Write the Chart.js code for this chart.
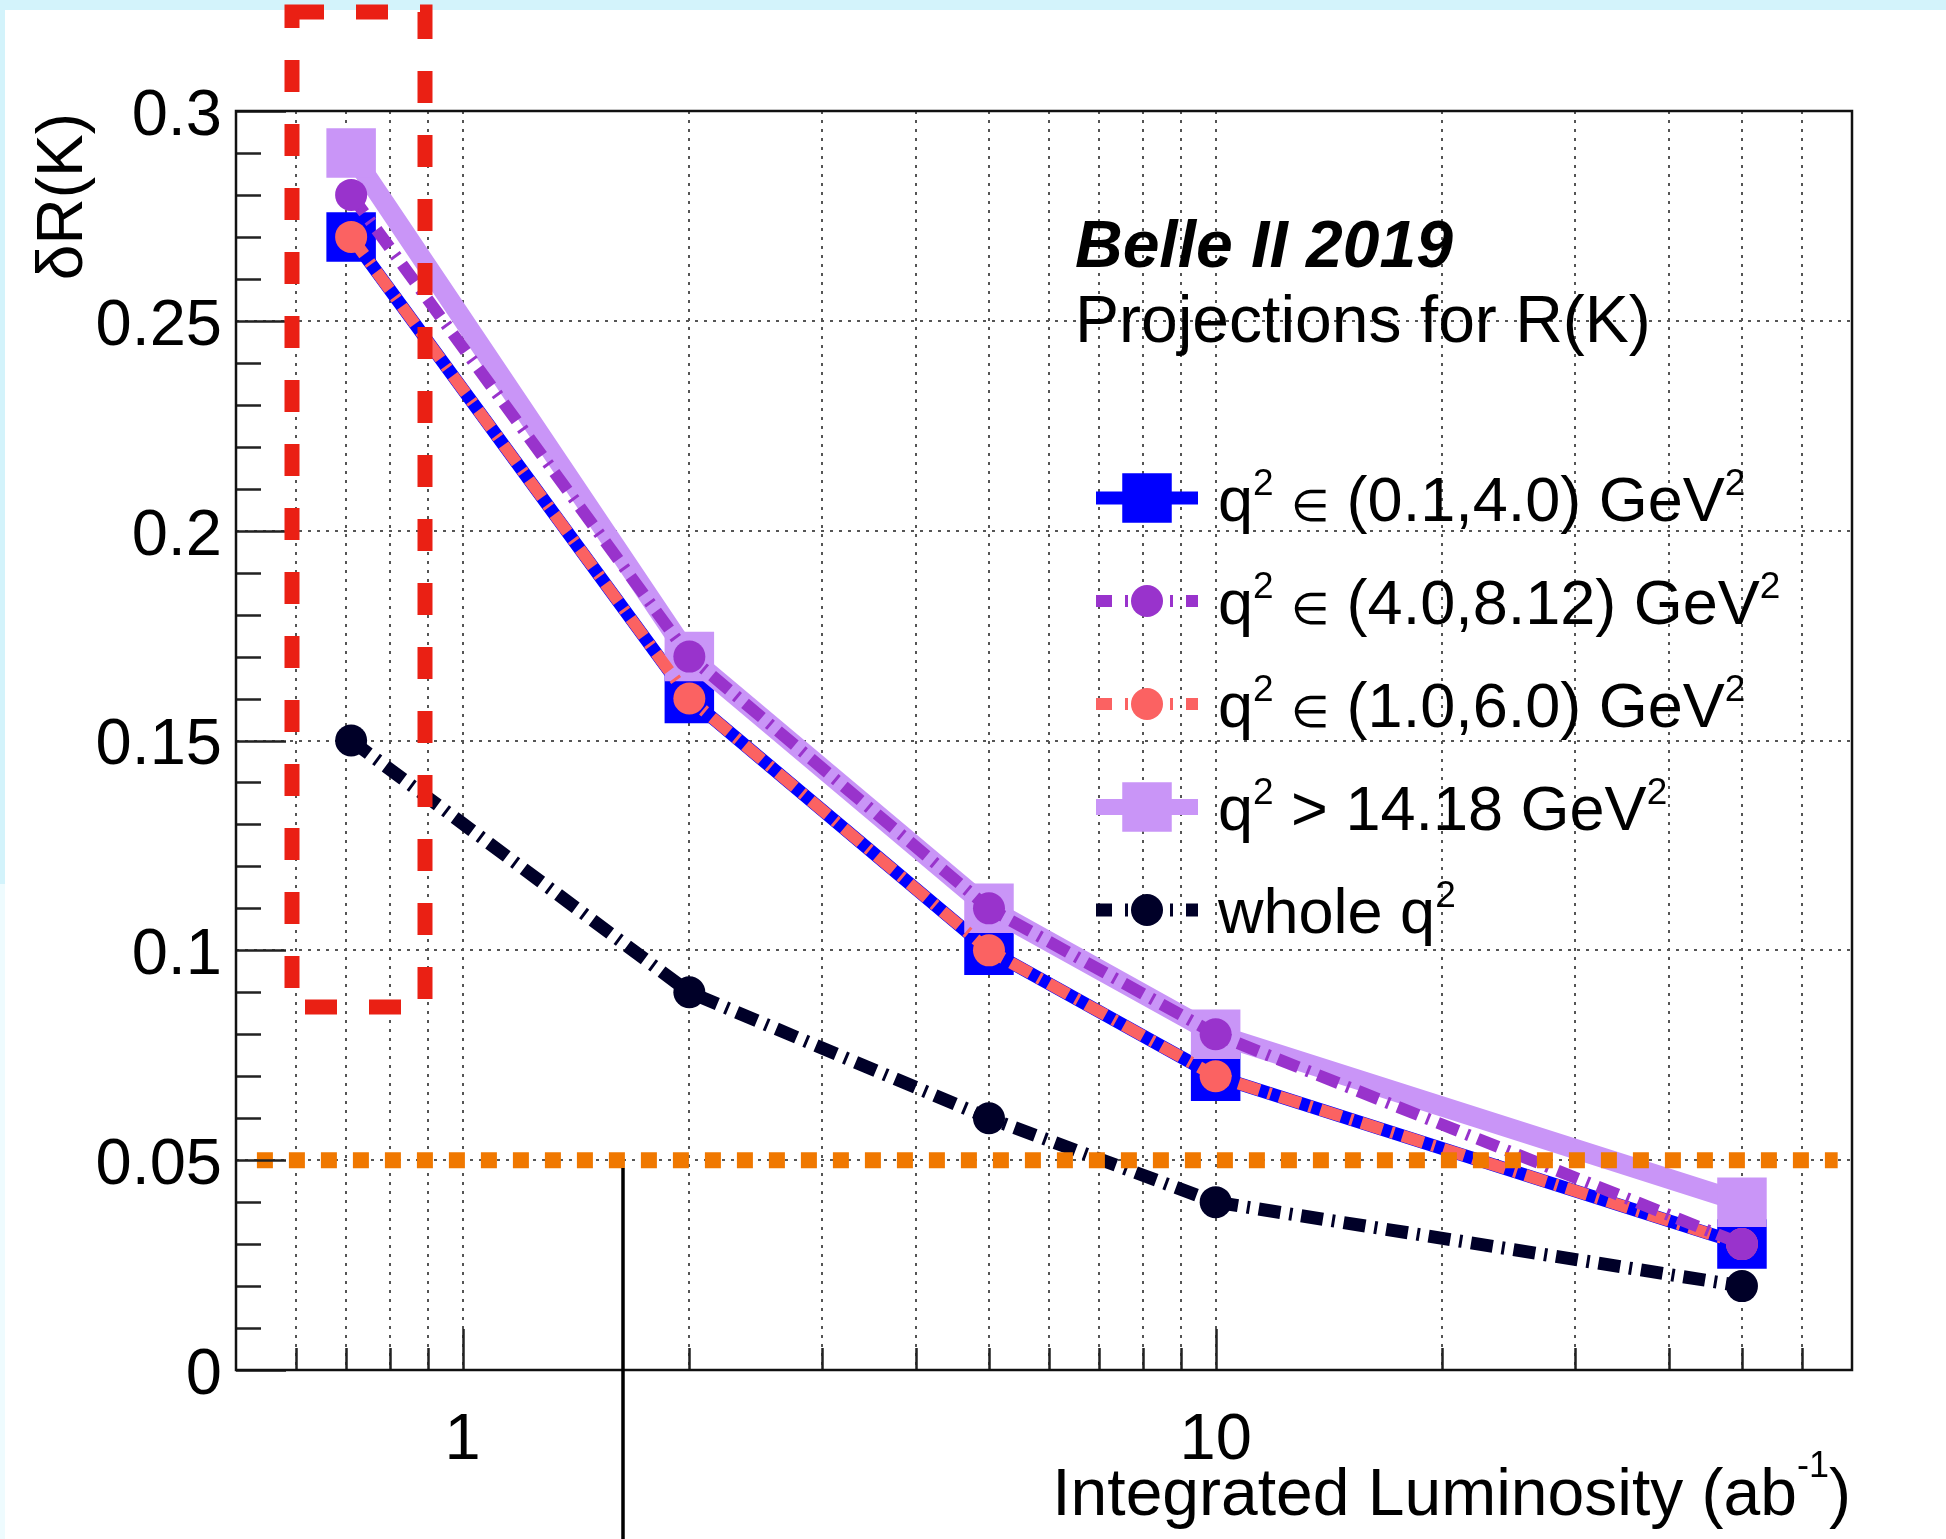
<!DOCTYPE html>
<html>
<head>
<meta charset="utf-8">
<title>Belle II 2019 - Projections for R(K)</title>
<script src="https://cdn.jsdelivr.net/npm/chart.js@4.4.1/dist/chart.umd.min.js"></script>
<style>
	html, body { margin: 0; padding: 0; background: #fff; }
	canvas { display: block; }
</style>
</head>
<body>
<canvas id="rkChart" width="1946" height="1539"></canvas>
<script>
;(function (window, document, undefined) {
	'use strict';

	// integrated luminosity, ab^-1
	const lumi	= [0.711, 2, 5, 10, 50];

	// delta R(K) for each q^2 region
	const bin01to40		= [0.27, 0.16, 0.10, 0.07, 0.03];
	const bin40to812	= [0.28, 0.17, 0.11, 0.08, 0.03];
	const bin10to60		= [0.27, 0.16, 0.10, 0.07, 0.03];
	const binAbove1418	= [0.29, 0.17, 0.11, 0.08, 0.04];
	const binWhole		= [0.15, 0.09, 0.06, 0.04, 0.02];

	// 5 % target line
	const targetValue	= 0.05;
	const targetLumi	= [0.533, 67];

	// axes
	const xRange		= [0.5, 70];
	const xTickValues	= [0.6, 0.7, 0.8, 0.9, 1, 2, 3, 4, 5, 6, 7, 8, 9, 10, 20, 30, 40, 50, 60];
	const xTickLabels	= [1, 10];
	const yRange		= [0, 0.3];
	const yTickValues	= [0, 0.05, 0.1, 0.15, 0.2, 0.25, 0.3];
	const yMinorStep	= 0.01;

	// legend texts (^ marks a superscript)
	const legendLabels = [
		'q^2 ∈ (0.1,4.0) GeV^2',
		'q^2 ∈ (4.0,8.12) GeV^2',
		'q^2 ∈ (1.0,6.0) GeV^2',
		'q^2 > 14.18 GeV^2',
		'whole q^2'
	];

	const FONT		= '"Liberation Sans", Arial, Helvetica, sans-serif';
	const DASHDOT	= [22, 9, 3, 9];

	const styles = [
		{ data: bin01to40,		color: '#0000ff', width: 13, dash: [],		marker: 'rect',   radius: 35 },
		{ data: bin40to812,		color: '#9933cc', width: 12, dash: DASHDOT,	marker: 'circle', radius: 16 },
		{ data: bin10to60,		color: '#fb6262', width: 12, dash: DASHDOT,	marker: 'circle', radius: 16 },
		{ data: binAbove1418,	color: '#c995f7', width: 20, dash: [],		marker: 'rect',   radius: 35 },
		{ data: binWhole,		color: '#000028', width: 13, dash: DASHDOT,	marker: 'circle', radius: 16 }
	];

	// which one lies on top (first = top)
	const drawOrder = [4, 1, 2, 3, 0];

	let toPoints = function (values) {
		return lumi.map(function (x, i) { return { x: x, y: values[i] }; });
	};

	let datasets = [{
		data: targetLumi.map(function (x) { return { x: x, y: targetValue }; }),
		borderColor: '#f07800',
		borderWidth: 16,
		borderDash: [16, 16],
		borderCapStyle: 'butt',
		pointRadius: 0,
		pointHoverRadius: 0,
		fill: false
	}];

	drawOrder.forEach(function (k) {
		let s = styles[k];
		datasets.push({
			data: toPoints(s.data),
			borderColor: s.color,
			borderWidth: s.width,
			borderDash: s.dash,
			borderCapStyle: 'butt',
			borderJoinStyle: 'miter',
			tension: 0,
			fill: false,
			pointStyle: s.marker,
			pointRadius: s.radius,
			pointHoverRadius: s.radius,
			pointBackgroundColor: s.color,
			pointBorderWidth: 0,
			pointHoverBorderWidth: 0
		});
	});

	// split "a^2 b^{-1}" into normal / superscript / symbol runs
	let splitSup = function (text) {
		return text.split(/(\^\{[^}]*\}|\^.|∈)/).filter(function (t) { return t.length; }).map(function (t) {
			if (t === '∈') return { t: t, kind: 'sym' };
			if (t.charAt(0) !== '^') return { t: t, kind: 'txt' };
			return { t: t.replace(/^\^\{?|\}$/g, ''), kind: 'sup' };
		});
	};

	let drawRich = function (ctx, text, x, y, size, align, supSize, rise) {
		let parts = splitSup(text);
		let total = 0;
		let fontOf = function (p) {
			if (p.kind === 'sup') return supSize + 'px ' + FONT;
			if (p.kind === 'sym') return Math.round(size * 0.7) + 'px ' + FONT;
			return size + 'px ' + FONT;
		};
		parts.forEach(function (p) {
			ctx.font = fontOf(p);
			p.w = ctx.measureText(p.t).width;
			total += p.w;
		});
		let cx = align === 'right' ? x - total : x;
		ctx.textAlign = 'left';
		ctx.textBaseline = 'alphabetic';
		parts.forEach(function (p) {
			ctx.font = fontOf(p);
			ctx.fillText(p.t, cx, p.kind === 'sup' ? y - rise : y);
			cx += p.w;
		});
	};

	let drawMarker = function (ctx, s, x, y) {
		ctx.fillStyle = s.color;
		if (s.marker === 'rect') {
			let h = s.radius * Math.SQRT1_2;
			ctx.fillRect(x - h, y - h, 2 * h, 2 * h);
		} else {
			ctx.beginPath();
			ctx.arc(x, y, s.radius, 0, Math.PI * 2);
			ctx.fill();
		}
	};

	let decor = {
		id: 'decor',
		beforeDraw: function (chart) {
			let ctx = chart.ctx;
			ctx.save();
			ctx.fillStyle = '#ffffff';
			ctx.fillRect(0, 0, chart.width, chart.height);
			ctx.fillStyle = '#d3f3fb';
			ctx.fillRect(0, 0, chart.width, 10);
			ctx.fillRect(0, 0, 5, 884);
			ctx.fillStyle = '#eefbfe';
			ctx.fillRect(0, 884, 5, chart.height - 884);
			ctx.restore();
		},
		afterDraw: function (chart) {
			let ctx	= chart.ctx;
			let a	= chart.chartArea;
			let xs	= chart.scales.x;
			let ys	= chart.scales.y;

			ctx.save();

			// inner tick marks
			ctx.strokeStyle = '#222';
			ctx.lineWidth = 2.5;
			ctx.beginPath();
			for (let v = yRange[0]; v <= yRange[1] + 1e-9; v += yMinorStep) {
				let py = Math.round(ys.getPixelForValue(v)) + 0.5;
				let major = yTickValues.some(function (t) { return Math.abs(t - v) < 1e-6; });
				ctx.moveTo(a.left, py);
				ctx.lineTo(a.left + (major ? 50 : 25), py);
			}
			xTickValues.forEach(function (v) {
				let px = Math.round(xs.getPixelForValue(v)) + 0.5;
				ctx.moveTo(px, a.bottom);
				ctx.lineTo(px, a.bottom - (xTickLabels.indexOf(v) >= 0 ? 41 : 22));
			});
			ctx.stroke();

			// frame
			ctx.strokeStyle = '#111';
			ctx.lineWidth = 2.5;
			ctx.strokeRect(a.left, a.top, a.right - a.left, a.bottom - a.top);

			// header
			ctx.fillStyle = '#000';
			ctx.textAlign = 'left';
			ctx.textBaseline = 'alphabetic';
			ctx.font = 'italic bold 66px ' + FONT;
			ctx.fillText('Belle II 2019', 1075, 267);
			ctx.font = '66px ' + FONT;
			ctx.fillText('Projections for R(K)', 1075, 342);

			// legend
			legendLabels.forEach(function (label, i) {
				let s	= styles[i];
				let cy	= 498 + i * 103;
				ctx.save();
				ctx.strokeStyle = s.color;
				ctx.lineWidth = s.width > 14 ? 16 : Math.max(s.width, 12);
				ctx.setLineDash(s.dash.length ? [16, 13, 3, 13] : []);
				ctx.beginPath();
				ctx.moveTo(1096, cy);
				ctx.lineTo(1198, cy);
				ctx.stroke();
				ctx.restore();
				drawMarker(ctx, s, 1147, cy);
				ctx.fillStyle = '#000';
				drawRich(ctx, label, 1218, cy + 23, 63, 'left', 37, 26);
			});

			// axis titles
			ctx.fillStyle = '#000';
			drawRich(ctx, 'Integrated Luminosity (ab^{-1})', 1851, 1515, 66, 'right', 36, 38);

			ctx.save();
			ctx.translate(82, 113);
			ctx.rotate(-Math.PI / 2);
			ctx.font = '64px ' + FONT;
			ctx.textAlign = 'right';
			ctx.textBaseline = 'alphabetic';
			ctx.fillText('δR(K)', 0, 0);
			ctx.restore();

			// red dashed box
			ctx.strokeStyle = '#ea2014';
			ctx.lineWidth = 15;
			ctx.lineCap = 'butt';
			ctx.setLineDash([32, 32]);
			ctx.strokeRect(292, 12, 133, 995);
			ctx.setLineDash([]);

			// black marker line
			ctx.strokeStyle = '#000';
			ctx.lineWidth = 3.5;
			ctx.beginPath();
			ctx.moveTo(623, 1168);
			ctx.lineTo(623, chart.height);
			ctx.stroke();

			ctx.restore();
		}
	};

	let gridOpts = { color: '#555', lineWidth: 2, drawTicks: false };
	let tickFont = { family: FONT, size: 65, lineHeight: 1.0 };

	new Chart(document.getElementById('rkChart'), {
		type: 'line',
		data: { datasets: datasets },
		plugins: [decor],
		options: {
			responsive: false,
			animation: false,
			devicePixelRatio: 1,
			events: [],
			layout: { padding: { left: 0, top: 111, right: 94, bottom: 0 } },
			plugins: {
				legend: { display: false },
				tooltip: { enabled: false }
			},
			scales: {
				x: {
					type: 'logarithmic',
					min: xRange[0],
					max: xRange[1],
					afterBuildTicks: function (s) {
						s.ticks = xTickValues.map(function (v) { return { value: v }; });
					},
					afterFit: function (s) { s.height = 169; },
					grid: gridOpts,
					border: { display: false, dash: [3, 6] },
					ticks: {
						autoSkip: false,
						maxRotation: 0,
						padding: 39,
						color: '#000',
						font: tickFont,
						callback: function (v) {
							return xTickLabels.indexOf(v) >= 0 ? String(v) : '';
						}
					}
				},
				y: {
					type: 'linear',
					min: yRange[0],
					max: yRange[1],
					afterBuildTicks: function (s) {
						s.ticks = yTickValues.map(function (v) { return { value: v }; });
					},
					afterFit: function (s) { s.width = 236; },
					grid: gridOpts,
					border: { display: false, dash: [3, 6] },
					ticks: {
						padding: 14,
						labelOffset: 6,
						color: '#000',
						font: tickFont,
						callback: function (v) {
							return String(+Number(v).toFixed(2));
						}
					}
				}
			}
		}
	});

})(window, document);
</script>
</body>
</html>
